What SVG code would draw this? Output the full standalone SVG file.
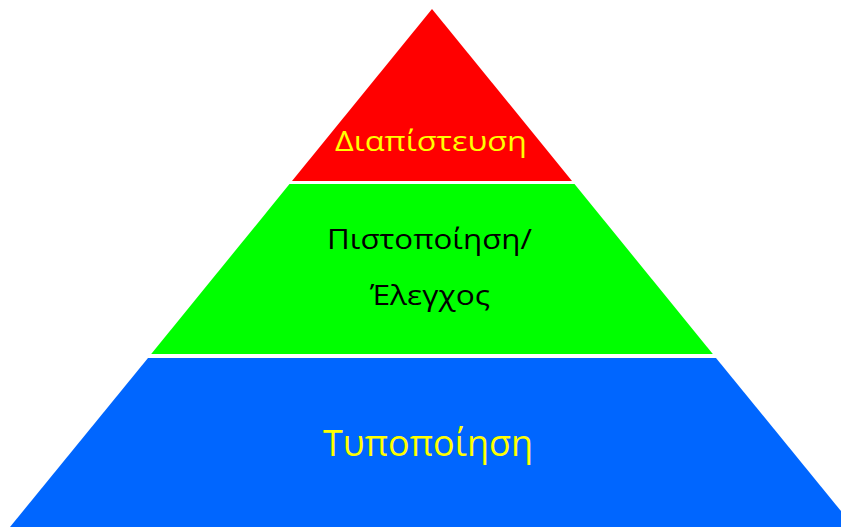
<svg xmlns="http://www.w3.org/2000/svg" width="841" height="527" viewBox="0 0 841 527">
<style>
.lbl{font-family:"Open Sans","Noto Sans","Liberation Sans",sans-serif;text-anchor:start}
.y{fill:#FFFF00}
.k{fill:#000000}
</style>
<rect width="841" height="527" fill="#FFFFFF"/>
<g id="top">
<polygon points="432,9 572,181 292,181" fill="#FF0000"/>
<text class="lbl y" x="335" y="151" font-size="27" textLength="192" lengthAdjust="spacingAndGlyphs">Διαπίστευση</text>
</g>
<g id="middle">
<polygon points="289.5,184 574.5,184 712.8,354 151.2,354" fill="#00FF00"/>
<text class="lbl k" x="327" y="249" font-size="28" textLength="205" lengthAdjust="spacingAndGlyphs">Πιστοποίηση/</text>
<text class="lbl k" x="370" y="305" font-size="28" textLength="120" lengthAdjust="spacingAndGlyphs">Έλεγχος</text>
</g>
<g id="bottom">
<polygon points="148,358 716,358 854,527 10,527" fill="#0066FF"/>
<text class="lbl y" x="323" y="456" font-size="37" textLength="210" lengthAdjust="spacingAndGlyphs">Τυποποίηση</text>
</g>
<g id="connectors"></g>
</svg>
